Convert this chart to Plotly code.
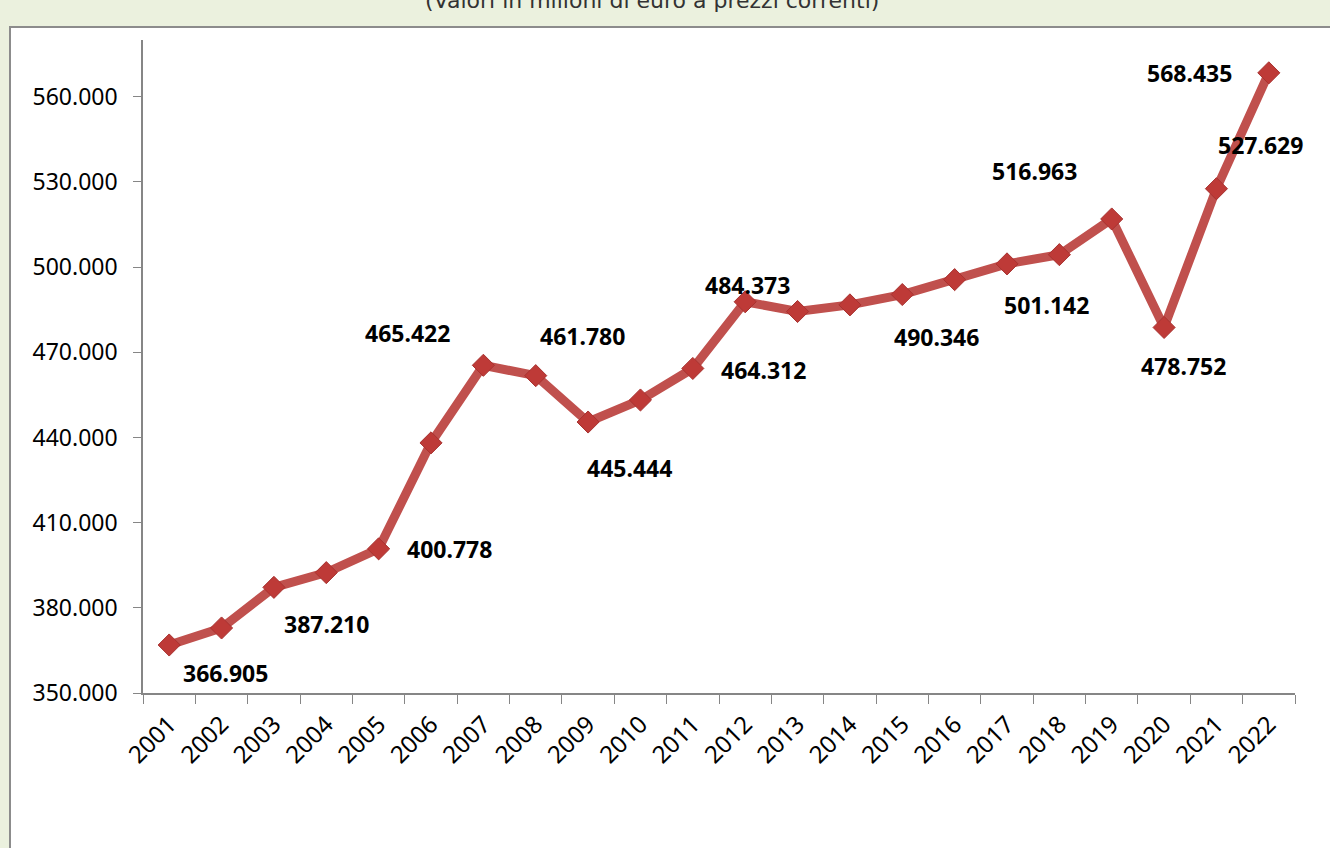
import plotly.graph_objects as go

years = [str(y) for y in range(2001, 2023)]
values = [366905, 372900, 387210, 392400, 400778, 438100, 465422, 461780,
          445444, 453200, 464312, 487800, 484373, 486700, 490346, 495600,
          501142, 504400, 516963, 478752, 527629, 568435]

# labelled points: (index, x shift px, y shift px (up positive))
label_idx = [0, 2, 4, 6, 7, 8, 10, 12, 14, 16, 18, 19, 20, 21]
label_dx = [56, 53, 71, -76, 47, 41, 71, -50, 34, 39, -77, 19, 44, -79]
label_dy = [-28, -37, 0, 32, 40, -46, -2, 27, -42, -41, 48, -39, 44, 0]

title_text = "(Valori in milioni di euro a prezzi correnti)"

RED = "#C0504D"
W, H = 1330, 848
L, R, T, B = 143, 35, 40, 155
pw, ph = W - L - R, H - T - B

def fmt(v):
    return f"{v:,.0f}".replace(",", ".")

fig = go.Figure()
fig.add_trace(go.Scatter(
    x=years, y=values, mode="lines+markers",
    line=dict(color=RED, width=9),
    marker=dict(symbol="diamond", size=17, color="#BE3A37",
                line=dict(color="#A83230", width=1)),
    hoverinfo="skip", showlegend=False,
))

annotations = []
for i, dx, dy in zip(label_idx, label_dx, label_dy):
    annotations.append(dict(
        x=i, y=values[i], xref="x", yref="y", text="<b>" + fmt(values[i]) + "</b>",
        showarrow=False, xshift=dx, yshift=dy,
        font=dict(family="Noto Sans", size=23, color="black"),
    ))
annotations.append(dict(
    x=(652 - L) / pw, y=1 + (T - 15) / ph, xref="paper", yref="paper",
    text=title_text, showarrow=False, xanchor="center", yanchor="bottom",
    font=dict(family="DejaVu Sans", size=22, color="#333333"),
))

shapes = [dict(
    type="rect", xref="paper", yref="paper", layer="below",
    x0=(10 - L) / pw, x1=(W + 20 - L) / pw,
    y0=-(H + 20 - (T + ph)) / ph, y1=1 + (T - 27) / ph,
    fillcolor="white", line=dict(color="#8C8C8C", width=2),
)]

fig.update_layout(
    width=W, height=H,
    margin=dict(l=L, r=R, t=T, b=B),
    paper_bgcolor="#EBF1DE", plot_bgcolor="white",
    separators=",.",
    annotations=annotations, shapes=shapes,
    xaxis=dict(
        type="category", range=[-0.5, 21.5], tickson="boundaries",
        ticks="outside", ticklen=9, tickcolor="#868686",
        showline=True, linecolor="#868686", linewidth=1.5,
        showgrid=False, tickangle=-45, ticklabelstandoff=6,
        tickfont=dict(family="Noto Sans", size=24, color="black"),
    ),
    yaxis=dict(
        range=[350000, 580000], tick0=350000, dtick=30000,
        tickformat=",.0f", ticks="outside", ticklen=8, tickcolor="#868686",
        showline=True, linecolor="#868686", linewidth=1.5,
        showgrid=False, zeroline=False,
        ticklabelstandoff=11,
        tickfont=dict(family="Noto Sans", size=23, color="black"),
    ),
)

fig.write_html(
    "out.html",
    config={"displayModeBar": False},
    post_script="document.body.style.margin='0';document.body.style.background='#EBF1DE';",
)
